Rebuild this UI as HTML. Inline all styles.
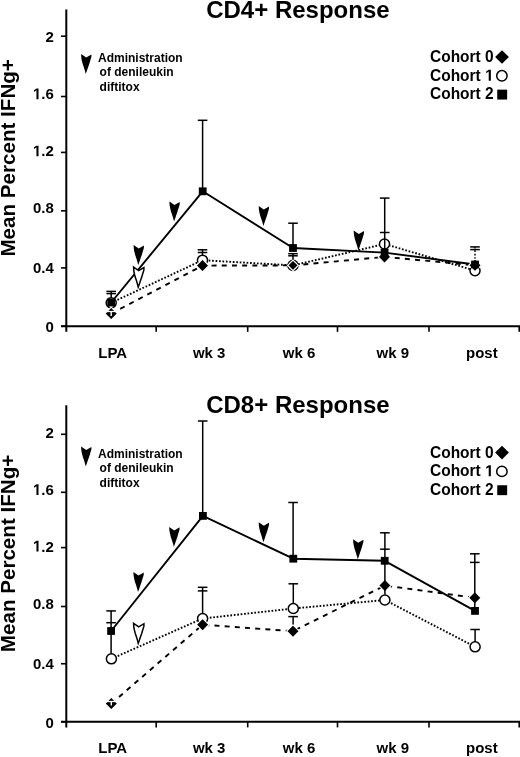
<!DOCTYPE html>
<html><head><meta charset="utf-8"><style>
html,body{margin:0;padding:0;background:#fff;}
body{width:520px;height:757px;overflow:hidden;font-family:"Liberation Sans",sans-serif;}
svg{display:block;filter:blur(0.3px);}
</style></head><body>
<svg width="520" height="757" viewBox="0 0 520 757">
<rect width="520" height="757" fill="#fff"/>
<line x1="66.30" y1="9.60" x2="66.30" y2="331.80" stroke="#000" stroke-width="2.00" stroke-linecap="butt"/>
<line x1="61.00" y1="326.20" x2="520.00" y2="326.20" stroke="#000" stroke-width="2.00" stroke-linecap="butt"/>
<line x1="156.20" y1="326.20" x2="156.20" y2="331.80" stroke="#000" stroke-width="1.60" stroke-linecap="butt"/>
<line x1="247.70" y1="326.20" x2="247.70" y2="331.80" stroke="#000" stroke-width="1.60" stroke-linecap="butt"/>
<line x1="337.50" y1="326.20" x2="337.50" y2="331.80" stroke="#000" stroke-width="1.60" stroke-linecap="butt"/>
<line x1="429.00" y1="326.20" x2="429.00" y2="331.80" stroke="#000" stroke-width="1.60" stroke-linecap="butt"/>
<line x1="519.20" y1="326.20" x2="519.20" y2="331.80" stroke="#000" stroke-width="1.60" stroke-linecap="butt"/>
<line x1="61.00" y1="36.20" x2="66.30" y2="36.20" stroke="#000" stroke-width="1.60" stroke-linecap="butt"/>
<line x1="61.00" y1="96.50" x2="66.30" y2="96.50" stroke="#000" stroke-width="1.60" stroke-linecap="butt"/>
<line x1="61.00" y1="152.40" x2="66.30" y2="152.40" stroke="#000" stroke-width="1.60" stroke-linecap="butt"/>
<line x1="61.00" y1="210.80" x2="66.30" y2="210.80" stroke="#000" stroke-width="1.60" stroke-linecap="butt"/>
<line x1="61.00" y1="267.90" x2="66.30" y2="267.90" stroke="#000" stroke-width="1.60" stroke-linecap="butt"/>
<line x1="61.00" y1="326.20" x2="66.30" y2="326.20" stroke="#000" stroke-width="1.60" stroke-linecap="butt"/>
<g transform="translate(45.46,41.80) scale(1,1.035)"><text x="0.00" y="0" font-size="15" font-family="Liberation Sans, sans-serif" font-weight="bold">2</text></g>
<g transform="translate(32.95,99.20) scale(1,1.035)"><path transform="translate(0.00,0) scale(0.00732,-0.00732)" d="M478 0 V1170 L140 959 V1180 L493 1409 H759 V0 Z"/><text x="8.34" y="0" font-size="15" font-family="Liberation Sans, sans-serif" font-weight="bold">.6</text></g>
<g transform="translate(32.95,156.30) scale(1,1.035)"><path transform="translate(0.00,0) scale(0.00732,-0.00732)" d="M478 0 V1170 L140 959 V1180 L493 1409 H759 V0 Z"/><text x="8.34" y="0" font-size="15" font-family="Liberation Sans, sans-serif" font-weight="bold">.2</text></g>
<g transform="translate(32.95,213.30) scale(1,1.035)"><text x="0.00" y="0" font-size="15" font-family="Liberation Sans, sans-serif" font-weight="bold">0.8</text></g>
<g transform="translate(32.95,272.80) scale(1,1.035)"><text x="0.00" y="0" font-size="15" font-family="Liberation Sans, sans-serif" font-weight="bold">0.4</text></g>
<g transform="translate(45.46,332.00) scale(1,1.035)"><text x="0.00" y="0" font-size="15" font-family="Liberation Sans, sans-serif" font-weight="bold">0</text></g>
<text transform="translate(14.6,256.60) rotate(-90)" font-size="20" textLength="197.5" lengthAdjust="spacingAndGlyphs" font-family="Liberation Sans, sans-serif" font-weight="bold">Mean Percent IFNg+</text>
<g transform="translate(206.20,17.50) scale(1,1.000)"><text x="0.00" y="0" font-size="24" font-family="Liberation Sans, sans-serif" font-weight="bold">CD4+ Response</text></g>
<g transform="translate(98.30,357.60) scale(1,1.035)"><text x="0.00" y="0" font-size="15" font-family="Liberation Sans, sans-serif" font-weight="bold">LPA</text></g>
<g transform="translate(192.90,357.60) scale(1,1.035)"><text x="0.00" y="0" font-size="15" font-family="Liberation Sans, sans-serif" font-weight="bold">wk 3</text></g>
<g transform="translate(282.80,357.60) scale(1,1.035)"><text x="0.00" y="0" font-size="15" font-family="Liberation Sans, sans-serif" font-weight="bold">wk 6</text></g>
<g transform="translate(376.50,357.60) scale(1,1.035)"><text x="0.00" y="0" font-size="15" font-family="Liberation Sans, sans-serif" font-weight="bold">wk 9</text></g>
<g transform="translate(466.00,357.60) scale(1,1.035)"><text x="0.00" y="0" font-size="15" font-family="Liberation Sans, sans-serif" font-weight="bold">post</text></g>
<path d="M81.10,54.00 L86.20,57.50 L91.40,54.40 L91.40,56.80 L90.30,60.40 L89.25,64.00 L88.00,67.50 L86.80,71.10 L85.70,73.90 L85.00,71.10 L83.90,67.50 L82.70,64.00 L81.80,60.40 L81.30,57.50 Z" fill="#000"/>
<text x="98.00" y="62.20" font-size="12" font-family="Liberation Sans, sans-serif" font-weight="bold" text-anchor="start">Administration</text>
<text x="99.60" y="76.40" font-size="12" font-family="Liberation Sans, sans-serif" font-weight="bold" text-anchor="start">of denileukin</text>
<text x="99.60" y="90.90" font-size="12" font-family="Liberation Sans, sans-serif" font-weight="bold" text-anchor="start">diftitox</text>
<g transform="translate(430.00,62.00) scale(1,1.035)"><text x="0.00" y="0" font-size="15.5" font-family="Liberation Sans, sans-serif" font-weight="bold">Cohort 0</text></g>
<g transform="translate(430.00,80.70) scale(1,1.035)"><text x="0.00" y="0" font-size="15.5" font-family="Liberation Sans, sans-serif" font-weight="bold">Cohort </text><path transform="translate(55.10,0) scale(0.00757,-0.00757)" d="M478 0 V1170 L140 959 V1180 L493 1409 H759 V0 Z"/></g>
<g transform="translate(430.00,99.40) scale(1,1.035)"><text x="0.00" y="0" font-size="15.5" font-family="Liberation Sans, sans-serif" font-weight="bold">Cohort 2</text></g>
<path d="M502.00,50.20 L508.90,57.00 L502.00,63.80 L495.10,57.00 Z" fill="#000"/>
<circle cx="501.90" cy="75.80" r="5.20" fill="#fff" stroke="#000" stroke-width="1.5"/>
<rect x="497.25" y="89.65" width="9.90" height="9.90" fill="#000"/>
<polyline points="111.20,302.80 202.50,260.20 293.00,265.40 384.50,244.00 475.00,270.60" fill="none" stroke="#000" stroke-width="1.90" stroke-linecap="butt" stroke-linejoin="round" stroke-dasharray="1.7 1.75"/>
<polyline points="111.20,313.60 202.50,265.60 293.00,265.40 384.50,256.90 475.00,265.30" fill="none" stroke="#000" stroke-width="1.90" stroke-linecap="butt" stroke-linejoin="round" stroke-dasharray="5 5.2"/>
<polyline points="111.20,302.50 202.70,191.30 293.00,248.00 384.60,252.60 475.00,264.50" fill="none" stroke="#000" stroke-width="1.90" stroke-linecap="butt" stroke-linejoin="round"/>
<path d="M133.60,245.10 L138.70,248.60 L143.90,245.50 L143.90,247.90 L142.80,251.50 L141.75,255.10 L140.50,258.60 L139.30,262.20 L138.20,265.00 L137.50,262.20 L136.40,258.60 L135.20,255.10 L134.30,251.50 L133.80,248.60 Z" fill="#000"/>
<path d="M169.40,201.60 L174.50,205.10 L179.70,202.00 L179.70,204.40 L178.60,208.00 L177.55,211.60 L176.30,215.10 L175.10,218.70 L174.00,221.50 L173.30,218.70 L172.20,215.10 L171.00,211.60 L170.10,208.00 L169.60,205.10 Z" fill="#000"/>
<path d="M258.70,206.00 L263.80,209.50 L269.00,206.40 L269.00,208.80 L267.90,212.40 L266.85,216.00 L265.60,219.50 L264.40,223.10 L263.30,225.90 L262.60,223.10 L261.50,219.50 L260.30,216.00 L259.40,212.40 L258.90,209.50 Z" fill="#000"/>
<path d="M353.70,230.60 L358.80,234.10 L364.00,231.00 L364.00,233.40 L362.90,237.00 L361.85,240.60 L360.60,244.10 L359.40,247.70 L358.30,250.50 L357.60,247.70 L356.50,244.10 L355.30,240.60 L354.40,237.00 L353.90,234.10 Z" fill="#000"/>
<path d="M133.60,267.10 L138.70,270.60 L143.90,267.50 L143.90,269.90 L142.80,273.50 L141.75,277.10 L140.50,280.60 L139.30,284.20 L138.20,287.00 L137.50,284.20 L136.40,280.60 L135.20,277.10 L134.30,273.50 L133.80,270.60 Z" fill="#fff" stroke="#000" stroke-width="1.5" stroke-linejoin="miter"/>
<line x1="111.20" y1="291.40" x2="111.20" y2="302.80" stroke="#000" stroke-width="1.50" stroke-linecap="butt"/>
<line x1="106.40" y1="291.40" x2="116.00" y2="291.40" stroke="#000" stroke-width="1.50" stroke-linecap="butt"/>
<line x1="106.40" y1="293.60" x2="116.00" y2="293.60" stroke="#000" stroke-width="1.50" stroke-linecap="butt"/>
<line x1="202.60" y1="120.30" x2="202.60" y2="191.30" stroke="#000" stroke-width="1.50" stroke-linecap="butt"/>
<line x1="197.80" y1="120.30" x2="207.40" y2="120.30" stroke="#000" stroke-width="1.50" stroke-linecap="butt"/>
<line x1="202.50" y1="249.80" x2="202.50" y2="260.20" stroke="#000" stroke-width="1.50" stroke-linecap="butt"/>
<line x1="197.70" y1="249.80" x2="207.30" y2="249.80" stroke="#000" stroke-width="1.50" stroke-linecap="butt"/>
<line x1="197.70" y1="252.50" x2="207.30" y2="252.50" stroke="#000" stroke-width="1.50" stroke-linecap="butt"/>
<line x1="293.00" y1="223.20" x2="293.00" y2="248.00" stroke="#000" stroke-width="1.50" stroke-linecap="butt"/>
<line x1="288.20" y1="223.20" x2="297.80" y2="223.20" stroke="#000" stroke-width="1.50" stroke-linecap="butt"/>
<line x1="293.00" y1="253.70" x2="293.00" y2="265.40" stroke="#000" stroke-width="1.50" stroke-linecap="butt"/>
<line x1="288.20" y1="253.70" x2="297.80" y2="253.70" stroke="#000" stroke-width="1.50" stroke-linecap="butt"/>
<line x1="288.20" y1="255.80" x2="297.80" y2="255.80" stroke="#000" stroke-width="1.50" stroke-linecap="butt"/>
<line x1="475.00" y1="246.90" x2="475.00" y2="259.50" stroke="#000" stroke-width="1.50" stroke-linecap="butt" stroke-dasharray="1.7 1.75"/>
<line x1="470.20" y1="246.90" x2="479.80" y2="246.90" stroke="#000" stroke-width="1.50" stroke-linecap="butt"/>
<line x1="470.20" y1="249.60" x2="479.80" y2="249.60" stroke="#000" stroke-width="1.50" stroke-linecap="butt"/>
<circle cx="111.20" cy="302.80" r="5.05" fill="#fff" stroke="#000" stroke-width="1.5"/>
<circle cx="202.50" cy="260.20" r="5.05" fill="#fff" stroke="#000" stroke-width="1.5"/>
<circle cx="293.00" cy="265.40" r="5.05" fill="#fff" stroke="#000" stroke-width="1.5"/>
<circle cx="384.50" cy="244.00" r="5.05" fill="#fff" stroke="#000" stroke-width="1.5"/>
<circle cx="475.00" cy="270.60" r="5.05" fill="#fff" stroke="#000" stroke-width="1.5"/>
<line x1="384.70" y1="198.10" x2="384.70" y2="252.60" stroke="#000" stroke-width="1.50" stroke-linecap="butt"/>
<line x1="379.90" y1="198.10" x2="389.50" y2="198.10" stroke="#000" stroke-width="1.50" stroke-linecap="butt"/>
<line x1="379.90" y1="232.50" x2="389.50" y2="232.50" stroke="#000" stroke-width="1.50" stroke-linecap="butt"/>
<path d="M111.20,307.20 L117.50,313.60 L111.20,320.00 L104.90,313.60 Z" fill="#000" stroke="#fff" stroke-width="1.2"/>
<path d="M202.50,259.20 L208.80,265.60 L202.50,272.00 L196.20,265.60 Z" fill="#000" stroke="#fff" stroke-width="1.2"/>
<path d="M293.00,260.10 L298.30,265.40 L293.00,270.70 L287.70,265.40 Z" fill="#000" stroke="#fff" stroke-width="1.2"/>
<path d="M384.50,250.50 L390.80,256.90 L384.50,263.30 L378.20,256.90 Z" fill="#000" stroke="#fff" stroke-width="1.2"/>
<path d="M475.00,258.90 L481.30,265.30 L475.00,271.70 L468.70,265.30 Z" fill="#000" stroke="#fff" stroke-width="1.2"/>
<rect x="107.30" y="298.60" width="7.80" height="7.80" fill="#000"/>
<rect x="198.80" y="187.40" width="7.80" height="7.80" fill="#000"/>
<rect x="289.10" y="244.10" width="7.80" height="7.80" fill="#000"/>
<rect x="380.70" y="248.70" width="7.80" height="7.80" fill="#000"/>
<rect x="471.10" y="260.60" width="7.80" height="7.80" fill="#000"/>
<line x1="105.20" y1="311.50" x2="117.20" y2="311.50" stroke="#fff" stroke-width="1.3"/>
<line x1="111.20" y1="311.50" x2="111.20" y2="316.00" stroke="#fff" stroke-width="1.4"/>
<line x1="66.30" y1="405.20" x2="66.30" y2="727.40" stroke="#000" stroke-width="2.00" stroke-linecap="butt"/>
<line x1="61.00" y1="721.80" x2="520.00" y2="721.80" stroke="#000" stroke-width="2.00" stroke-linecap="butt"/>
<line x1="156.20" y1="721.80" x2="156.20" y2="727.40" stroke="#000" stroke-width="1.60" stroke-linecap="butt"/>
<line x1="247.70" y1="721.80" x2="247.70" y2="727.40" stroke="#000" stroke-width="1.60" stroke-linecap="butt"/>
<line x1="337.50" y1="721.80" x2="337.50" y2="727.40" stroke="#000" stroke-width="1.60" stroke-linecap="butt"/>
<line x1="429.00" y1="721.80" x2="429.00" y2="727.40" stroke="#000" stroke-width="1.60" stroke-linecap="butt"/>
<line x1="519.20" y1="721.80" x2="519.20" y2="727.40" stroke="#000" stroke-width="1.60" stroke-linecap="butt"/>
<line x1="61.00" y1="434.30" x2="66.30" y2="434.30" stroke="#000" stroke-width="1.60" stroke-linecap="butt"/>
<line x1="61.00" y1="492.30" x2="66.30" y2="492.30" stroke="#000" stroke-width="1.60" stroke-linecap="butt"/>
<line x1="61.00" y1="547.60" x2="66.30" y2="547.60" stroke="#000" stroke-width="1.60" stroke-linecap="butt"/>
<line x1="61.00" y1="606.50" x2="66.30" y2="606.50" stroke="#000" stroke-width="1.60" stroke-linecap="butt"/>
<line x1="61.00" y1="663.75" x2="66.30" y2="663.75" stroke="#000" stroke-width="1.60" stroke-linecap="butt"/>
<line x1="61.00" y1="721.80" x2="66.30" y2="721.80" stroke="#000" stroke-width="1.60" stroke-linecap="butt"/>
<g transform="translate(45.46,437.60) scale(1,1.035)"><text x="0.00" y="0" font-size="15" font-family="Liberation Sans, sans-serif" font-weight="bold">2</text></g>
<g transform="translate(32.95,495.00) scale(1,1.035)"><path transform="translate(0.00,0) scale(0.00732,-0.00732)" d="M478 0 V1170 L140 959 V1180 L493 1409 H759 V0 Z"/><text x="8.34" y="0" font-size="15" font-family="Liberation Sans, sans-serif" font-weight="bold">.6</text></g>
<g transform="translate(32.95,551.50) scale(1,1.035)"><path transform="translate(0.00,0) scale(0.00732,-0.00732)" d="M478 0 V1170 L140 959 V1180 L493 1409 H759 V0 Z"/><text x="8.34" y="0" font-size="15" font-family="Liberation Sans, sans-serif" font-weight="bold">.2</text></g>
<g transform="translate(32.95,608.60) scale(1,1.035)"><text x="0.00" y="0" font-size="15" font-family="Liberation Sans, sans-serif" font-weight="bold">0.8</text></g>
<g transform="translate(32.95,668.50) scale(1,1.035)"><text x="0.00" y="0" font-size="15" font-family="Liberation Sans, sans-serif" font-weight="bold">0.4</text></g>
<g transform="translate(45.46,727.80) scale(1,1.035)"><text x="0.00" y="0" font-size="15" font-family="Liberation Sans, sans-serif" font-weight="bold">0</text></g>
<text transform="translate(14.6,652.20) rotate(-90)" font-size="20" textLength="197.5" lengthAdjust="spacingAndGlyphs" font-family="Liberation Sans, sans-serif" font-weight="bold">Mean Percent IFNg+</text>
<g transform="translate(206.20,413.10) scale(1,1.000)"><text x="0.00" y="0" font-size="24" font-family="Liberation Sans, sans-serif" font-weight="bold">CD8+ Response</text></g>
<g transform="translate(98.30,753.20) scale(1,1.035)"><text x="0.00" y="0" font-size="15" font-family="Liberation Sans, sans-serif" font-weight="bold">LPA</text></g>
<g transform="translate(192.90,753.20) scale(1,1.035)"><text x="0.00" y="0" font-size="15" font-family="Liberation Sans, sans-serif" font-weight="bold">wk 3</text></g>
<g transform="translate(282.80,753.20) scale(1,1.035)"><text x="0.00" y="0" font-size="15" font-family="Liberation Sans, sans-serif" font-weight="bold">wk 6</text></g>
<g transform="translate(376.50,753.20) scale(1,1.035)"><text x="0.00" y="0" font-size="15" font-family="Liberation Sans, sans-serif" font-weight="bold">wk 9</text></g>
<g transform="translate(466.00,753.20) scale(1,1.035)"><text x="0.00" y="0" font-size="15" font-family="Liberation Sans, sans-serif" font-weight="bold">post</text></g>
<path d="M81.10,446.50 L86.20,450.00 L91.40,446.90 L91.40,449.30 L90.30,452.90 L89.25,456.50 L88.00,460.00 L86.80,463.60 L85.70,466.40 L85.00,463.60 L83.90,460.00 L82.70,456.50 L81.80,452.90 L81.30,450.00 Z" fill="#000"/>
<text x="98.00" y="457.80" font-size="12" font-family="Liberation Sans, sans-serif" font-weight="bold" text-anchor="start">Administration</text>
<text x="99.60" y="472.00" font-size="12" font-family="Liberation Sans, sans-serif" font-weight="bold" text-anchor="start">of denileukin</text>
<text x="99.60" y="486.50" font-size="12" font-family="Liberation Sans, sans-serif" font-weight="bold" text-anchor="start">diftitox</text>
<g transform="translate(430.00,457.60) scale(1,1.035)"><text x="0.00" y="0" font-size="15.5" font-family="Liberation Sans, sans-serif" font-weight="bold">Cohort 0</text></g>
<g transform="translate(430.00,476.30) scale(1,1.035)"><text x="0.00" y="0" font-size="15.5" font-family="Liberation Sans, sans-serif" font-weight="bold">Cohort </text><path transform="translate(55.10,0) scale(0.00757,-0.00757)" d="M478 0 V1170 L140 959 V1180 L493 1409 H759 V0 Z"/></g>
<g transform="translate(430.00,495.00) scale(1,1.035)"><text x="0.00" y="0" font-size="15.5" font-family="Liberation Sans, sans-serif" font-weight="bold">Cohort 2</text></g>
<path d="M502.00,445.80 L508.90,452.60 L502.00,459.40 L495.10,452.60 Z" fill="#000"/>
<circle cx="501.90" cy="471.40" r="5.20" fill="#fff" stroke="#000" stroke-width="1.5"/>
<rect x="497.25" y="485.25" width="9.90" height="9.90" fill="#000"/>
<polyline points="111.40,658.80 202.60,618.50 293.30,608.50 384.90,600.00 475.10,646.80" fill="none" stroke="#000" stroke-width="1.90" stroke-linecap="butt" stroke-linejoin="round" stroke-dasharray="1.7 1.75"/>
<polyline points="111.30,703.60 202.60,624.70 293.00,631.20 384.90,585.50 474.80,597.80" fill="none" stroke="#000" stroke-width="1.90" stroke-linecap="butt" stroke-linejoin="round" stroke-dasharray="5 5.2"/>
<polyline points="111.10,631.00 202.90,515.90 293.30,558.70 384.70,560.80 475.00,610.90" fill="none" stroke="#000" stroke-width="1.90" stroke-linecap="butt" stroke-linejoin="round"/>
<path d="M133.40,572.10 L138.50,575.60 L143.70,572.50 L143.70,574.90 L142.60,578.50 L141.55,582.10 L140.30,585.60 L139.10,589.20 L138.00,592.00 L137.30,589.20 L136.20,585.60 L135.00,582.10 L134.10,578.50 L133.60,575.60 Z" fill="#000"/>
<path d="M169.20,526.90 L174.30,530.40 L179.50,527.30 L179.50,529.70 L178.40,533.30 L177.35,536.90 L176.10,540.40 L174.90,544.00 L173.80,546.80 L173.10,544.00 L172.00,540.40 L170.80,536.90 L169.90,533.30 L169.40,530.40 Z" fill="#000"/>
<path d="M258.70,522.30 L263.80,525.80 L269.00,522.70 L269.00,525.10 L267.90,528.70 L266.85,532.30 L265.60,535.80 L264.40,539.40 L263.30,542.20 L262.60,539.40 L261.50,535.80 L260.30,532.30 L259.40,528.70 L258.90,525.80 Z" fill="#000"/>
<path d="M353.10,539.30 L358.20,542.80 L363.40,539.70 L363.40,542.10 L362.30,545.70 L361.25,549.30 L360.00,552.80 L358.80,556.40 L357.70,559.20 L357.00,556.40 L355.90,552.80 L354.70,549.30 L353.80,545.70 L353.30,542.80 Z" fill="#000"/>
<path d="M133.60,623.30 L138.70,626.80 L143.90,623.70 L143.90,626.10 L142.80,629.70 L141.75,633.30 L140.50,636.80 L139.30,640.40 L138.20,643.20 L137.50,640.40 L136.40,636.80 L135.20,633.30 L134.30,629.70 L133.80,626.80 Z" fill="#fff" stroke="#000" stroke-width="1.5" stroke-linejoin="miter"/>
<line x1="111.10" y1="610.90" x2="111.10" y2="658.80" stroke="#000" stroke-width="1.50" stroke-linecap="butt"/>
<line x1="106.30" y1="610.90" x2="115.90" y2="610.90" stroke="#000" stroke-width="1.50" stroke-linecap="butt"/>
<line x1="106.30" y1="622.70" x2="115.90" y2="622.70" stroke="#000" stroke-width="1.50" stroke-linecap="butt"/>
<line x1="202.70" y1="421.00" x2="202.70" y2="515.90" stroke="#000" stroke-width="1.50" stroke-linecap="butt"/>
<line x1="197.90" y1="421.00" x2="207.50" y2="421.00" stroke="#000" stroke-width="1.50" stroke-linecap="butt"/>
<line x1="202.60" y1="587.30" x2="202.60" y2="618.50" stroke="#000" stroke-width="1.50" stroke-linecap="butt"/>
<line x1="197.80" y1="587.30" x2="207.40" y2="587.30" stroke="#000" stroke-width="1.50" stroke-linecap="butt"/>
<line x1="197.80" y1="590.90" x2="207.40" y2="590.90" stroke="#000" stroke-width="1.50" stroke-linecap="butt"/>
<line x1="293.10" y1="502.50" x2="293.10" y2="558.70" stroke="#000" stroke-width="1.50" stroke-linecap="butt"/>
<line x1="288.30" y1="502.50" x2="297.90" y2="502.50" stroke="#000" stroke-width="1.50" stroke-linecap="butt"/>
<line x1="293.30" y1="583.80" x2="293.30" y2="608.50" stroke="#000" stroke-width="1.50" stroke-linecap="butt"/>
<line x1="288.50" y1="583.80" x2="298.10" y2="583.80" stroke="#000" stroke-width="1.50" stroke-linecap="butt"/>
<line x1="293.10" y1="616.60" x2="293.10" y2="631.20" stroke="#000" stroke-width="1.50" stroke-linecap="butt"/>
<line x1="288.30" y1="616.60" x2="297.90" y2="616.60" stroke="#000" stroke-width="1.50" stroke-linecap="butt"/>
<line x1="475.10" y1="629.50" x2="475.10" y2="646.80" stroke="#000" stroke-width="1.50" stroke-linecap="butt"/>
<line x1="470.30" y1="629.50" x2="479.90" y2="629.50" stroke="#000" stroke-width="1.50" stroke-linecap="butt"/>
<circle cx="111.40" cy="658.80" r="5.05" fill="#fff" stroke="#000" stroke-width="1.5"/>
<circle cx="202.60" cy="618.50" r="5.05" fill="#fff" stroke="#000" stroke-width="1.5"/>
<circle cx="293.30" cy="608.50" r="5.05" fill="#fff" stroke="#000" stroke-width="1.5"/>
<circle cx="384.90" cy="600.00" r="5.05" fill="#fff" stroke="#000" stroke-width="1.5"/>
<circle cx="475.10" cy="646.80" r="5.05" fill="#fff" stroke="#000" stroke-width="1.5"/>
<path d="M111.30,697.20 L117.60,703.60 L111.30,710.00 L105.00,703.60 Z" fill="#000" stroke="#fff" stroke-width="1.2"/>
<path d="M202.60,618.30 L208.90,624.70 L202.60,631.10 L196.30,624.70 Z" fill="#000" stroke="#fff" stroke-width="1.2"/>
<path d="M293.00,624.80 L299.30,631.20 L293.00,637.60 L286.70,631.20 Z" fill="#000" stroke="#fff" stroke-width="1.2"/>
<path d="M384.90,579.10 L391.20,585.50 L384.90,591.90 L378.60,585.50 Z" fill="#000" stroke="#fff" stroke-width="1.2"/>
<path d="M474.80,591.40 L481.10,597.80 L474.80,604.20 L468.50,597.80 Z" fill="#000" stroke="#fff" stroke-width="1.2"/>
<line x1="384.90" y1="532.80" x2="384.90" y2="594.50" stroke="#000" stroke-width="1.50" stroke-linecap="butt"/>
<line x1="380.10" y1="532.80" x2="389.70" y2="532.80" stroke="#000" stroke-width="1.50" stroke-linecap="butt"/>
<line x1="380.10" y1="549.20" x2="389.70" y2="549.20" stroke="#000" stroke-width="1.50" stroke-linecap="butt"/>
<line x1="474.80" y1="553.80" x2="474.80" y2="610.90" stroke="#000" stroke-width="1.50" stroke-linecap="butt"/>
<line x1="470.00" y1="553.80" x2="479.60" y2="553.80" stroke="#000" stroke-width="1.50" stroke-linecap="butt"/>
<line x1="470.00" y1="562.40" x2="479.60" y2="562.40" stroke="#000" stroke-width="1.50" stroke-linecap="butt"/>
<rect x="107.20" y="627.10" width="7.80" height="7.80" fill="#000"/>
<rect x="199.00" y="512.00" width="7.80" height="7.80" fill="#000"/>
<rect x="289.40" y="554.80" width="7.80" height="7.80" fill="#000"/>
<rect x="380.80" y="556.90" width="7.80" height="7.80" fill="#000"/>
<rect x="471.10" y="607.00" width="7.80" height="7.80" fill="#000"/>
<line x1="105.30" y1="701.50" x2="117.30" y2="701.50" stroke="#fff" stroke-width="1.3"/>
<line x1="111.30" y1="701.50" x2="111.30" y2="705.60" stroke="#fff" stroke-width="1.4"/>
</svg>
</body></html>
